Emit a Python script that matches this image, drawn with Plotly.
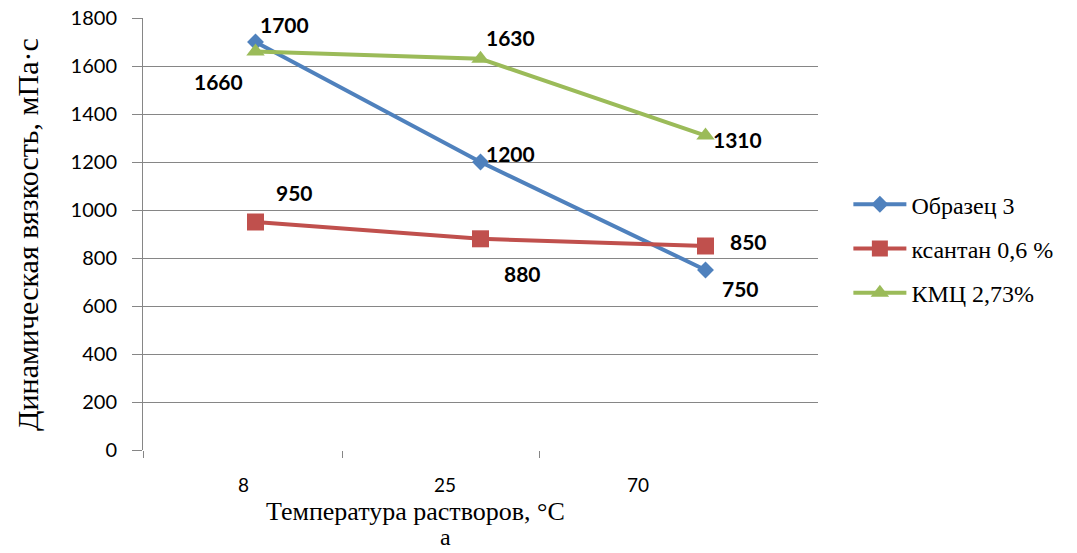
import plotly.graph_objects as go

categories = ["8", "25", "70"]
series_names = ["Образец 3", "ксантан 0,6 %", "КМЦ 2,73%"]
obrazec = [1700, 1200, 750]
ksantan = [950, 880, 850]
kmc = [1660, 1630, 1310]
y_ticks = [0, 200, 400, 600, 800, 1000, 1200, 1400, 1600, 1800]

colors = ["#4F81BD", "#C0504D", "#9BBB59"]
symbols = ["diamond", "square", "triangle-up"]
sizes = [13, 17, 16]
values = [obrazec, ksantan, kmc]
xpos = list(range(len(categories)))

# label offsets (px) per series/point
shifts = [
    [(29, 18), (30, 9), (35, -18)],
    [(39, 30), (42, -35), (43, 5)],
    [(-37, -30), (30, 21), (32, -4)],
]

fig = go.Figure()
for i, (name, vals) in enumerate(zip(series_names, values)):
    fig.add_trace(go.Scatter(
        x=xpos, y=vals, mode="lines+markers", name=name,
        legendgroup=f"g{i}",
        line=dict(color=colors[i], width=4),
        marker=dict(symbol=symbols[i], size=sizes[i], color=colors[i]),
    ))
    for j, v in enumerate(vals):
        dx, dy = shifts[i][j]
        fig.add_annotation(x=xpos[j], y=v, text=str(v), showarrow=False,
                           xshift=dx, yshift=dy,
                           font=dict(family="Lato", size=21, color="#000000", weight="bold"))

# x tick labels (offset as in reference)
label_x = [-0.053, 0.844, 1.70]
for lx, lab in zip(label_x, categories):
    fig.add_annotation(x=lx, y=0, yref="y", text=lab, showarrow=False, yshift=-34,
                       font=dict(family="Lato", size=19, color="#000000"))

# axis titles
fig.add_annotation(x=0.711, y=0, yref="y", text="Температура растворов, °C", showarrow=False,
                   yshift=-61, font=dict(family="Liberation Serif", size=26, color="#000000"))
fig.add_annotation(x=0.844, y=0, yref="y", text="а", showarrow=False,
                   yshift=-87, font=dict(family="Liberation Serif", size=24, color="#000000"))
fig.add_annotation(x=-0.172, y=0.5, xref="paper", yref="paper", text="Динамическая вязкость, мПа·с",
                   textangle=-90, showarrow=False, xanchor="center", yanchor="middle",
                   font=dict(family="Liberation Serif", size=30, color="#000000"))

fig.update_layout(
    width=1077, height=553,
    margin=dict(l=143, r=259, t=18, b=103, autoexpand=False),
    paper_bgcolor="white", plot_bgcolor="white",
    showlegend=True,
    legend=dict(x=1.045, y=0.62, xanchor="left", yanchor="top",
                font=dict(family="Liberation Serif", size=24, color="#000000"),
                itemwidth=53,
                tracegroupgap=10, traceorder="grouped", bgcolor="rgba(0,0,0,0)"),
    xaxis=dict(range=[-0.5, 2.5], tickvals=[-0.5, 0.387, 1.262], ticktext=["", "", ""],
               ticks="outside", ticklen=7, tickcolor="#868686", showgrid=False,
               showline=False, zeroline=False, automargin=False),
    yaxis=dict(range=[0, 1800], tickvals=y_ticks, ticks="outside", ticklen=10,
               tickcolor="#868686", gridcolor="#868686", gridwidth=1,
               showline=True, linecolor="#868686", linewidth=1, zeroline=False,
               automargin=False,
               tickfont=dict(family="Lato", size=20, color="#000000"), ticklabelstandoff=11),
)

fig.write_html("out.html")
